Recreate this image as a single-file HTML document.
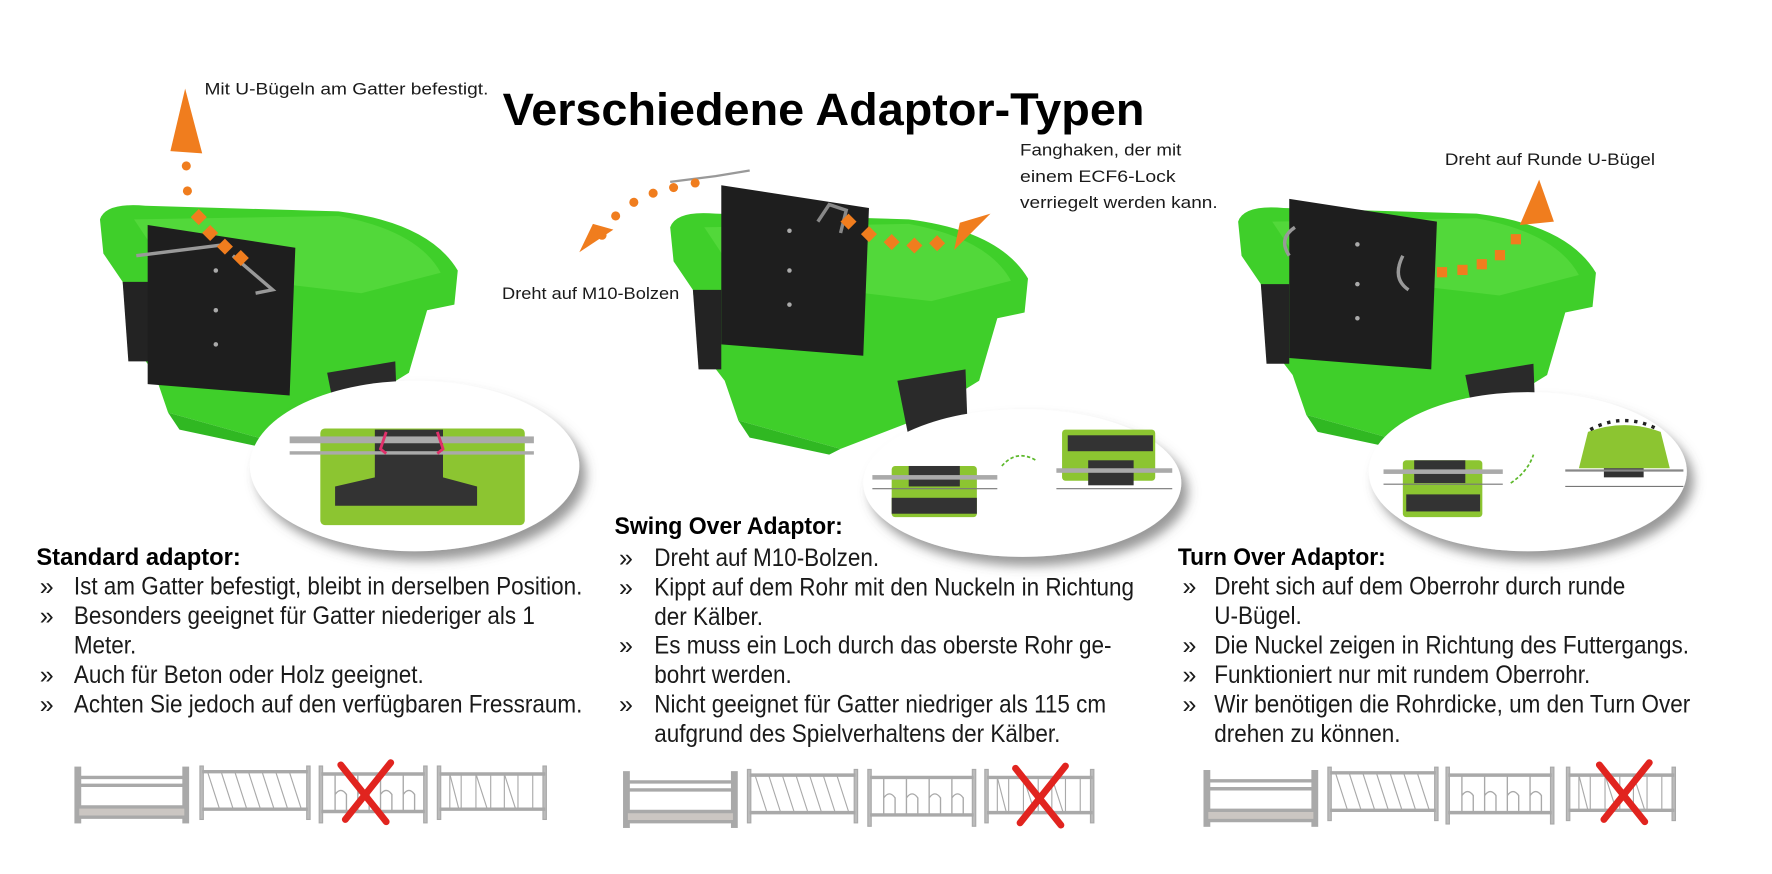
<!DOCTYPE html>
<html><head><meta charset="utf-8"><style>
html,body{margin:0;padding:0;background:#fff;}
svg{display:block;}
text{font-family:"Liberation Sans",sans-serif;fill:#1a1a1a;}
.h{font-weight:bold;font-size:21px;fill:#000;}
.t{font-size:22px;}
.s{font-size:15px;}
</style></head><body>
<svg width="1772" height="874" viewBox="0 0 1560 769" preserveAspectRatio="none" xmlns="http://www.w3.org/2000/svg">
<defs>
<filter id="sh" x="-20%" y="-20%" width="150%" height="160%"><feDropShadow dx="6" dy="8" stdDeviation="5" flood-color="#555" flood-opacity="0.6"/></filter>
<g id="trough">
  <path d="M0,15 Q5,0 40,3 L210,8 Q290,18 315,60 L312,90 L288,95 L272,150 L215,185 L150,210 L60,185 L48,150 L25,120 L20,70 L3,45 Z" fill="#3fcf2a"/>
  <path d="M30,15 L210,12 Q280,25 300,62 L230,80 L60,60 Z" fill="#52d83a"/>
  <path d="M20,70 L45,70 L45,140 L25,140 Z" fill="#232323"/>
  <path d="M200,150 L260,140 L262,195 L210,200 Z" fill="#2a2a2a"/>
  <path d="M60,185 L150,210 L140,215 L70,200 Z" fill="#30b822"/>
</g>
<g id="plate"><path d="M0,0 L130,20 L125,150 L0,140 Z" fill="#1e1e1e"/><circle cx="60" cy="40" r="2" fill="#aaa"/><circle cx="60" cy="75" r="2" fill="#aaa"/><circle cx="60" cy="105" r="2" fill="#aaa"/></g>
<g id="fA" fill="none" stroke="#a9a9a9" stroke-width="3"><rect x="1" y="0" width="3" height="47" fill="#bbb"/><rect x="96" y="0" width="3" height="47" fill="#bbb"/><rect x="3" y="34" width="94" height="9" fill="#cbc6c2" stroke-width="1.5"/><line x1="3" y1="8" x2="97" y2="8"/><line x1="3" y1="15" x2="97" y2="15"/><line x1="3" y1="34" x2="97" y2="34"/><line x1="3" y1="43" x2="97" y2="43"/></g>
<g id="fB" fill="none" stroke="#a9a9a9"><rect x="1" y="0" width="3" height="47" fill="#bbb"/><rect x="95" y="0" width="3" height="47" fill="#bbb"/><line x1="3" y1="5" x2="96" y2="5" stroke-width="3"/><line x1="3" y1="38" x2="96" y2="38" stroke-width="3"/><g stroke-width="1"><line x1="8" y1="6" x2="18" y2="37"/><line x1="20" y1="6" x2="30" y2="37"/><line x1="32" y1="6" x2="42" y2="37"/><line x1="44" y1="6" x2="54" y2="37"/><line x1="56" y1="6" x2="66" y2="37"/><line x1="68" y1="6" x2="78" y2="37"/><line x1="80" y1="6" x2="90" y2="37"/></g></g>
<g id="fC" fill="none" stroke="#a9a9a9"><rect x="1" y="0" width="3" height="50" fill="#bbb"/><rect x="93" y="0" width="3" height="50" fill="#bbb"/><line x1="3" y1="7" x2="94" y2="7" stroke-width="3"/><line x1="3" y1="40" x2="94" y2="40" stroke-width="3"/><g stroke-width="1.2"><path d="M15,7 V25 Q20,18 25,25 V40 M15,25 V40"/><path d="M35,7 V25 Q40,18 45,25 V40 M35,25 V40"/><path d="M55,7 V25 Q60,18 65,25 V40 M55,25 V40"/><path d="M75,7 V25 Q80,18 85,25 V40 M75,25 V40"/></g></g>
<g id="fD" fill="none" stroke="#a9a9a9"><rect x="1" y="0" width="3" height="47" fill="#bbb"/><rect x="94" y="0" width="3" height="47" fill="#bbb"/><line x1="3" y1="7" x2="96" y2="7" stroke-width="3"/><line x1="3" y1="38" x2="96" y2="38" stroke-width="3"/><g stroke-width="1"><line x1="12" y1="7" x2="12" y2="38"/><line x1="22" y1="7" x2="22" y2="38"/><line x1="35" y1="7" x2="35" y2="38"/><line x1="48" y1="7" x2="48" y2="38"/><line x1="60" y1="7" x2="60" y2="38"/><line x1="72" y1="7" x2="72" y2="38"/><line x1="85" y1="7" x2="85" y2="38"/><line x1="12" y1="7" x2="20" y2="38"/><line x1="35" y1="7" x2="45" y2="38"/><line x1="60" y1="7" x2="70" y2="38"/></g></g>
<g id="X" stroke="#e1241f" stroke-width="6" stroke-linecap="round"><line x1="-22" y1="-24" x2="18" y2="26"/><line x1="22" y1="-26" x2="-18" y2="24"/></g>
</defs>

<text x="725" y="110" text-anchor="middle" font-weight="bold" font-size="40" textLength="565" lengthAdjust="spacingAndGlyphs" style="fill:#000">Verschiedene Adaptor-Typen</text>

<!-- LEFT unit -->
<use href="#trough" x="88" y="178"/>
<use href="#plate" x="130" y="198"/>
<path d="M120,225 L200,215 M205,225 L240,255 L225,258" stroke="#999" stroke-width="3" fill="none"/>
<g fill="#f07d1e"><path d="M163,78 L150,133 L178,135 Z"/><circle cx="164" cy="146" r="4"/><circle cx="165" cy="168" r="4"/><rect x="170" y="186" width="10" height="10" transform="rotate(45 175 191)"/><rect x="180" y="200" width="10" height="10" transform="rotate(45 185 205)"/><rect x="193" y="212" width="10" height="10" transform="rotate(45 198 217)"/><rect x="207" y="222" width="10" height="10" transform="rotate(45 212 227)"/></g>
<ellipse cx="365" cy="410" rx="145" ry="75" fill="#fff" filter="url(#sh)"/>
<rect x="282" y="377" width="180" height="85" rx="4" fill="#8cc531"/>
<path d="M330,378 H390 V420 L420,428 V445 H295 V428 L330,420 Z" fill="#333"/>
<rect x="255" y="384" width="215" height="6" fill="#aaa"/><rect x="255" y="397" width="215" height="3" fill="#aaa"/>
<path d="M340,380 L335,395 L340,399 M385,380 L390,395 L385,399" stroke="#e0306a" stroke-width="2.5" fill="none"/>
<text class="s" x="180" y="83" textLength="250" lengthAdjust="spacingAndGlyphs">Mit U-Bügeln am Gatter befestigt.</text>

<!-- MIDDLE unit -->
<use href="#trough" x="590" y="185"/>
<use href="#plate" x="635" y="163"/>
<path d="M720,195 L730,180 L745,185 L740,205" stroke="#888" stroke-width="3" fill="none"/>
<path d="M590,160 L630,155 L660,150" stroke="#999" stroke-width="2" fill="none"/>
<g fill="#f07d1e"><path d="M510,222 L540,202 L522,197 Z"/><circle cx="530" cy="207" r="4"/><circle cx="542" cy="190" r="4"/><circle cx="558" cy="178" r="4"/><circle cx="575" cy="170" r="4"/><circle cx="593" cy="165" r="4"/><circle cx="612" cy="161" r="4"/><rect x="742" y="190" width="10" height="10" transform="rotate(45 747 195)"/><rect x="760" y="201" width="10" height="10" transform="rotate(45 765 206)"/><rect x="780" y="208" width="10" height="10" transform="rotate(45 785 213)"/><rect x="800" y="211" width="10" height="10" transform="rotate(45 805 216)"/><rect x="820" y="209" width="10" height="10" transform="rotate(45 825 214)"/><path d="M840,220 L872,188 L845,196 Z"/></g>
<ellipse cx="900" cy="425" rx="140" ry="65" fill="#fff" filter="url(#sh)"/>
<rect x="785" y="410" width="75" height="45" rx="3" fill="#8cc531"/><rect x="800" y="410" width="45" height="18" fill="#333"/><rect x="785" y="438" width="75" height="14" fill="#333"/>
<rect x="768" y="418" width="110" height="4" fill="#aaa"/><line x1="768" y1="430" x2="878" y2="430" stroke="#777"/>
<rect x="935" y="378" width="82" height="45" rx="3" fill="#8cc531"/><rect x="940" y="383" width="75" height="14" fill="#333"/><rect x="958" y="405" width="40" height="22" fill="#333"/>
<rect x="930" y="412" width="102" height="4" fill="#aaa"/><line x1="930" y1="430" x2="1032" y2="430" stroke="#777"/>
<path d="M882,410 Q895,395 912,405" stroke="#5cb82a" stroke-width="1.5" stroke-dasharray="3 2" fill="none"/>
<text class="s" x="442" y="263" textLength="156" lengthAdjust="spacingAndGlyphs">Dreht auf M10-Bolzen</text>
<text class="s" x="898" y="137" textLength="142" lengthAdjust="spacingAndGlyphs">Fanghaken, der mit</text>
<text class="s" x="898" y="160" textLength="137" lengthAdjust="spacingAndGlyphs">einem ECF6-Lock</text>
<text class="s" x="898" y="183" textLength="174" lengthAdjust="spacingAndGlyphs">verriegelt werden kann.</text>

<!-- RIGHT unit -->
<use href="#trough" x="1090" y="180"/>
<use href="#plate" x="1135" y="175"/>
<path d="M1140,200 Q1125,210 1135,225 M1235,225 Q1225,245 1240,255" stroke="#999" stroke-width="3" fill="none"/>
<g fill="#f07d1e"><path d="M1355,158 L1338,198 L1368,195 Z"/><rect x="1330" y="206" width="9" height="9"/><rect x="1316" y="220" width="9" height="9"/><rect x="1300" y="228" width="9" height="9"/><rect x="1283" y="233" width="9" height="9"/><rect x="1265" y="235" width="9" height="9"/></g>
<ellipse cx="1345" cy="415" rx="140" ry="70" fill="#fff" filter="url(#sh)"/>
<rect x="1235" y="405" width="70" height="50" rx="3" fill="#8cc531"/><rect x="1245" y="405" width="45" height="20" fill="#333"/><rect x="1238" y="435" width="65" height="15" fill="#333"/>
<rect x="1218" y="413" width="105" height="4" fill="#aaa"/><line x1="1218" y1="426" x2="1323" y2="426" stroke="#777"/>
<path d="M1390,412 L1398,380 Q1430,368 1462,380 L1470,412 Z" fill="#8cc531"/><rect x="1412" y="412" width="35" height="8" fill="#333"/>
<line x1="1378" y1="414" x2="1482" y2="414" stroke="#888" stroke-width="2"/><line x1="1378" y1="428" x2="1482" y2="428" stroke="#777"/>
<path d="M1400,378 Q1430,362 1460,378" stroke="#222" stroke-width="3" stroke-dasharray="3 5" fill="none"/>
<path d="M1330,425 Q1345,415 1350,400" stroke="#5cb82a" stroke-width="1.5" stroke-dasharray="3 2" fill="none"/>
<text class="s" x="1272" y="145" textLength="185" lengthAdjust="spacingAndGlyphs">Dreht auf Runde U-Bügel</text>

<!-- TEXT columns -->
<text class="h" x="32" y="497" textLength="180" lengthAdjust="spacingAndGlyphs">Standard adaptor:</text>
<g class="t"><text x="35" y="523">»</text><text x="35" y="549">»</text><text x="35" y="601">»</text><text x="35" y="627">»</text></g>
<g class="t" transform="translate(65 0) scale(0.9 1)">
<text x="0" y="523">Ist am Gatter befestigt, bleibt in derselben Position.</text>
<text x="0" y="549">Besonders geeignet für Gatter niederiger als 1</text>
<text x="0" y="575">Meter.</text>
<text x="0" y="601">Auch für Beton oder Holz geeignet.</text>
<text x="0" y="627">Achten Sie jedoch auf den verfügbaren Fressraum.</text></g>

<text class="h" x="541" y="470" textLength="201" lengthAdjust="spacingAndGlyphs">Swing Over Adaptor:</text>
<g class="t"><text x="545" y="498">»</text><text x="545" y="524">»</text><text x="545" y="575">»</text><text x="545" y="627">»</text></g>
<g class="t" transform="translate(576 0) scale(0.9 1)">
<text x="0" y="498">Dreht auf M10-Bolzen.</text>
<text x="0" y="524">Kippt auf dem Rohr mit den Nuckeln in Richtung</text>
<text x="0" y="550">der Kälber.</text>
<text x="0" y="575">Es muss ein Loch durch das oberste Rohr ge-</text>
<text x="0" y="601">bohrt werden.</text>
<text x="0" y="627">Nicht geeignet für Gatter niedriger als 115 cm</text>
<text x="0" y="653">aufgrund des Spielverhaltens der Kälber.</text></g>

<text class="h" x="1037" y="497" textLength="183" lengthAdjust="spacingAndGlyphs">Turn Over Adaptor:</text>
<g class="t"><text x="1041" y="523">»</text><text x="1041" y="575">»</text><text x="1041" y="601">»</text><text x="1041" y="627">»</text></g>
<g class="t" transform="translate(1069 0) scale(0.9 1)">
<text x="0" y="523">Dreht sich auf dem Oberrohr durch runde</text>
<text x="0" y="549">U-Bügel.</text>
<text x="0" y="575">Die Nuckel zeigen in Richtung des Futtergangs.</text>
<text x="0" y="601">Funktioniert nur mit rundem Oberrohr.</text>
<text x="0" y="627">Wir benötigen die Rohrdicke, um den Turn Over</text>
<text x="0" y="653">drehen zu können.</text></g>

<!-- fences -->
<use href="#fA" x="66" y="676"/><use href="#fB" x="175" y="674"/><use href="#fC" x="280" y="674"/><use href="#fD" x="384" y="674"/>
<use href="#X" x="322" y="697"/>
<use href="#fA" x="549" y="680"/><use href="#fB" x="657" y="677"/><use href="#fC" x="763" y="677"/><use href="#fD" x="866" y="677"/>
<use href="#X" x="916" y="700"/>
<use href="#fA" x="1060" y="679"/><use href="#fB" x="1168" y="675"/><use href="#fC" x="1272" y="675"/><use href="#fD" x="1378" y="675"/>
<use href="#X" x="1430" y="697"/>
</svg>
</body></html>
